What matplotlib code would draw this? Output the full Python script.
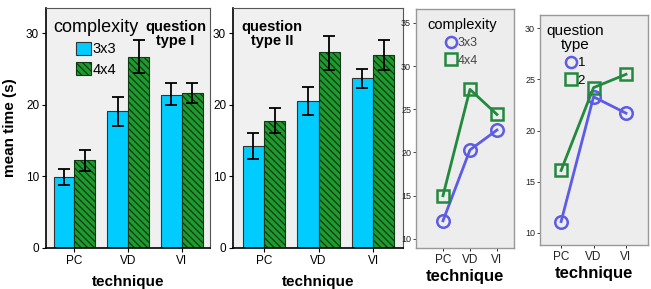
import numpy as np
import matplotlib.pyplot as plt
from matplotlib.patches import Patch
from matplotlib.lines import Line2D

plt.rcParams['font.family'] = ['Liberation Sans', 'DejaVu Sans']
plt.rcParams['hatch.linewidth'] = 0.9

techniques = ['PC', 'VD', 'VI']

# bar panel: question type I
q1_3x3 = [9.9, 19.1, 21.4]
q1_3x3_lo = [8.8, 17.1, 19.9]
q1_3x3_hi = [11.0, 21.1, 23.0]
q1_4x4 = [12.3, 26.7, 21.6]
q1_4x4_lo = [10.8, 24.4, 20.2]
q1_4x4_hi = [13.7, 29.0, 23.0]

# bar panel: question type II
q2_3x3 = [14.2, 20.5, 23.7]
q2_3x3_lo = [12.4, 18.5, 22.3]
q2_3x3_hi = [16.0, 22.5, 25.0]
q2_4x4 = [17.8, 27.3, 27.0]
q2_4x4_lo = [16.1, 24.9, 24.9]
q2_4x4_hi = [19.6, 29.6, 29.1]

# line panels
cx_3x3 = [12.1, 20.3, 22.6]
cx_4x4 = [15.0, 27.3, 24.4]
qt_1 = [11.1, 23.3, 21.7]
qt_2 = [16.1, 24.2, 25.5]

cyan = '#00ccff'
green = '#1e9a2e'
blue_l = '#5c5ce6'
green_l = '#22893e'
bg = '#f0f0f0'
hatch = '\\\\\\\\\\'

fig = plt.figure(figsize=(6.51, 2.89), dpi=100)


def bar_panel(rect, a, alo, ahi, b, blo, bhi):
    ax = fig.add_axes(rect)
    ax.set_facecolor(bg)
    x = np.arange(len(techniques))
    w = 0.39
    ax.bar(x - w / 2, a, w, color=cyan, edgecolor='#333333', linewidth=0.8, zorder=2)
    ax.bar(x + w / 2, b, w, color=green, edgecolor='#0e3a14', hatch=hatch,
           linewidth=0.8, zorder=2)
    ea = [np.array(a) - np.array(alo), np.array(ahi) - np.array(a)]
    eb = [np.array(b) - np.array(blo), np.array(bhi) - np.array(b)]
    ax.errorbar(x - w / 2, a, yerr=ea, fmt='none', ecolor='black', elinewidth=1.3,
                capsize=4, capthick=1.3, zorder=3)
    ax.errorbar(x + w / 2, b, yerr=eb, fmt='none', ecolor='black', elinewidth=1.3,
                capsize=4, capthick=1.3, zorder=3)
    ax.set_ylim(0, 33.5)
    ax.set_xlim(-0.53, 2.53)
    ax.set_yticks([0, 10, 20, 30])
    ax.set_xticks(x)
    ax.set_xticklabels(techniques)
    ax.tick_params(labelsize=8.5, length=3, width=0.8, pad=2)
    for s in ['top', 'right']:
        ax.spines[s].set_color('#555555')
        ax.spines[s].set_linewidth(0.8)
    for s in ['left', 'bottom']:
        ax.spines[s].set_color('black')
        ax.spines[s].set_linewidth(1.2)
    ax.set_xlabel('technique', fontsize=11, fontweight='bold', labelpad=6)
    return ax


ax1 = bar_panel([0.0707, 0.142, 0.252, 0.830], q1_3x3, q1_3x3_lo, q1_3x3_hi,
                q1_4x4, q1_4x4_lo, q1_4x4_hi)
ax1.set_ylabel('mean time (s)', fontsize=11, fontweight='bold', labelpad=6)
ax1.text(0.79, 0.95, 'question\ntype I', transform=ax1.transAxes, ha='center',
         va='top', fontsize=10.5, fontweight='bold', linespacing=1.0)
handles = [Patch(facecolor=cyan, edgecolor='#333333', linewidth=0.8),
           Patch(facecolor=green, edgecolor='#0e3a14', hatch=hatch, linewidth=0.8)]
ax1.legend(handles, ['3x3', '4x4'], title='complexity', loc='upper left',
           frameon=False, fontsize=10.5, title_fontsize=13, handlelength=1.0,
           handleheight=1.0, handletextpad=0.1, labelspacing=0.4,
           borderaxespad=0.1, bbox_to_anchor=(0.0, 0.985))

ax2 = bar_panel([0.358, 0.142, 0.261, 0.830], q2_3x3, q2_3x3_lo, q2_3x3_hi,
                q2_4x4, q2_4x4_lo, q2_4x4_hi)
ax2.set_xlim(-0.57, 2.55)
ax2.text(0.23, 0.95, 'question\ntype II', transform=ax2.transAxes, ha='center',
         va='top', fontsize=10.5, fontweight='bold', linespacing=1.0)


def line_panel(rect, s1, s2, ylim, yticks, xlim):
    ax = fig.add_axes(rect)
    ax.set_facecolor('#ededed')
    x = np.arange(len(techniques))
    ax.plot(x, s1, color=blue_l, lw=2, marker='o', ms=9, mfc='none', mew=1.8, zorder=3)
    ax.plot(x, s2, color=green_l, lw=2, marker='s', ms=9, mfc='none', mew=1.8, zorder=3)
    ax.set_ylim(*ylim)
    ax.set_xlim(*xlim)
    ax.set_yticks(yticks)
    ax.set_xticks(x)
    ax.set_xticklabels(techniques, fontsize=8.5, color='#222222')
    ax.tick_params(axis='y', labelsize=6.5, length=2.5, width=0.6, pad=1, colors='#222222')
    ax.tick_params(axis='x', length=2.5, width=0.6, pad=2)
    for s in ax.spines.values():
        s.set_color('#999999')
        s.set_linewidth(1.0)
    ax.set_xlabel('technique', fontsize=12, fontweight='bold', labelpad=2)
    hs = [Line2D([], [], color=blue_l, marker='o', ms=8, mfc='none', mew=1.8, ls='none'),
          Line2D([], [], color=green_l, marker='s', ms=8, mfc='none', mew=1.8, ls='none')]
    return ax, hs


ax3, hs = line_panel([0.639, 0.142, 0.1505, 0.827], cx_3x3, cx_4x4, (8.96, 36.6),
                     [10, 15, 20, 25, 30, 35], (-1.0, 2.63))
ax3.legend(hs, ['3x3', '4x4'], title='complexity', loc='upper left', frameon=False,
           fontsize=9, title_fontsize=10.5, handlelength=0.8, handletextpad=0.1,
           labelspacing=0.45, borderaxespad=0.1, bbox_to_anchor=(0.05, 0.99),
           labelcolor='#444444')

ax4, hs = line_panel([0.8295, 0.152, 0.166, 0.796], qt_1, qt_2, (8.8, 31.3),
                     [10, 15, 20, 25, 30], (-0.65, 2.68))
leg4 = ax4.legend(hs, ['1', '2'], title='question\ntype', loc='upper left', frameon=False,
                  fontsize=9.5, title_fontsize=11, handlelength=0.8, handletextpad=0.1,
                  labelspacing=0.4, borderaxespad=0.1, bbox_to_anchor=(0.0, 0.99))
leg4.get_title().set_multialignment('center')
leg4.get_title().set_linespacing(1.0)

fig.savefig('out.png', dpi=100)
